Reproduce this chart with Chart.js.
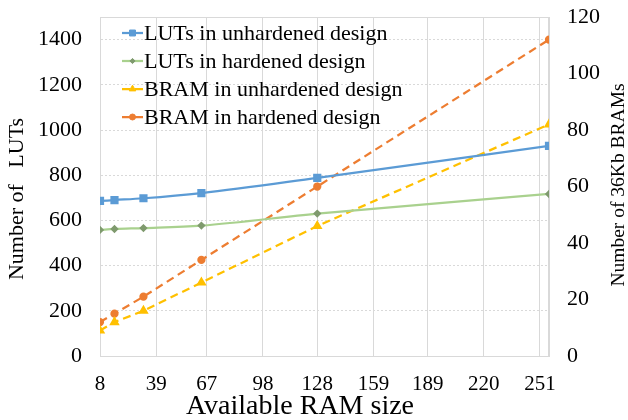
<!DOCTYPE html>
<html>
<head>
<meta charset="utf-8">
<script src="https://cdn.jsdelivr.net/npm/chart.js@4/dist/chart.umd.min.js"></script>
<style>
  html, body { margin: 0; padding: 0; background: #fff; }
  #wrap { width: 628px; height: 420px; }
</style>
</head>
<body>
<div id="wrap"><canvas id="chart"></canvas></div>
<script>
const ramSizes = [8, 16, 32, 64, 128, 256];
const lutsUnhardened = [686, 690, 698, 721, 788, 930];
const lutsHardened = [558, 562, 566, 577, 630, 717];
const bramUnhardened = [9, 12, 16, 26, 46, 82];
const bramHardened = [12, 15, 21, 34, 60, 112];
const xTickLabels = [8, 39, 67, 98, 128, 159, 189, 220, 251];

const serif = "'Liberation Serif', 'Times New Roman', serif";

function pairs(values) {
  return ramSizes.map((x, i) => ({ x: x, y: values[i] }));
}

function marker(ctx, ds, x, y) {
  ctx.fillStyle = ds.pointBackgroundColor;
  ctx.strokeStyle = ds.pointBorderColor;
  ctx.lineWidth = 1;
  Chart.helpers.drawPoint(ctx, {
    pointStyle: ds.pointStyle,
    radius: ds.pointRadius,
    borderWidth: 1,
    rotation: 0
  }, x, y);
}

// frame, legend inside the plot and the axis titles
const extras = {
  id: "extras",
  beforeDatasetsDraw(chart) {
    const a = chart.chartArea;
    const ctx = chart.ctx;
    ctx.save();
    ctx.strokeStyle = "#d9d9d9";
    ctx.lineWidth = 1;
    ctx.strokeRect(a.left + 0.5, a.top + 0.5, a.right - a.left - 1, a.bottom - a.top);
    ctx.restore();
  },
  afterDraw(chart) {
    const ctx = chart.ctx;
    ctx.save();
    ctx.font = "22px " + serif;
    ctx.textBaseline = "middle";
    chart.data.datasets.forEach((ds, i) => {
      const y = 33 + i * 28;
      ctx.strokeStyle = ds.borderColor;
      ctx.lineWidth = 2.25;
      ctx.setLineDash(ds.borderDash || []);
      ctx.beginPath();
      ctx.moveTo(122, y);
      ctx.lineTo(143, y);
      ctx.stroke();
      ctx.setLineDash([]);
      marker(ctx, ds, 132.5, y);
      ctx.fillStyle = "#000";
      ctx.fillText(ds.label, 144, y + 1);
    });

    ctx.fillStyle = "#000";
    ctx.textAlign = "center";
    ctx.textBaseline = "middle";

    ctx.font = "28px " + serif;
    ctx.fillText("Available RAM size", 300, 407);

    ctx.save();
    ctx.translate(17, 199);
    ctx.rotate(-Math.PI / 2);
    ctx.font = "22px " + serif;
    ctx.fillText("Number of   LUTs", 0, 0);
    ctx.restore();

    ctx.save();
    ctx.translate(619, 185);
    ctx.rotate(-Math.PI / 2);
    ctx.font = "19.5px " + serif;
    ctx.fillText("Number of 36Kb BRAMs", 0, 0);
    ctx.restore();

    ctx.restore();
  }
};

function fixWidth(w) {
  return scale => {
    scale.width = w;
    scale.paddingTop = 0;
    scale.paddingBottom = 0;
  };
}

new Chart(document.getElementById("chart"), {
  type: "line",
  data: {
    datasets: [
      {
        label: "LUTs in unhardened design",
        data: pairs(lutsUnhardened),
        yAxisID: "y",
        borderColor: "#5b9bd5",
        pointBackgroundColor: "#5b9bd5",
        pointBorderColor: "#5b9bd5",
        pointStyle: "rect",
        pointRadius: 4.2,
        borderWidth: 2.25,
        cubicInterpolationMode: "monotone"
      },
      {
        label: "LUTs in hardened design",
        data: pairs(lutsHardened),
        yAxisID: "y",
        borderColor: "#a9d18e",
        pointBackgroundColor: "#7f9a6e",
        pointBorderColor: "#7f9a6e",
        pointStyle: "rectRot",
        pointRadius: 2.6,
        borderWidth: 2.25,
        cubicInterpolationMode: "monotone"
      },
      {
        label: "BRAM in unhardened design",
        data: pairs(bramUnhardened),
        yAxisID: "y1",
        borderColor: "#ffc000",
        pointBackgroundColor: "#ffc000",
        pointBorderColor: "#ffc000",
        pointStyle: "triangle",
        pointRadius: 3.8,
        borderWidth: 2.25,
        borderDash: [8, 5]
      },
      {
        label: "BRAM in hardened design",
        data: pairs(bramHardened),
        yAxisID: "y1",
        borderColor: "#ed7d31",
        pointBackgroundColor: "#ed7d31",
        pointBorderColor: "#ed7d31",
        pointStyle: "circle",
        pointRadius: 3,
        borderWidth: 2.25,
        borderDash: [8, 5]
      }
    ]
  },
  options: {
    responsive: true,
    maintainAspectRatio: false,
    animation: false,
    layout: { padding: { top: 17, left: 0, right: 0, bottom: 0 } },
    plugins: {
      legend: { display: false },
      tooltip: { enabled: false }
    },
    scales: {
      x: {
        type: "linear",
        min: 8,
        max: 256,
        afterBuildTicks(scale) {
          scale.ticks = xTickLabels.map(v => ({ value: v }));
        },
        afterFit(scale) {
          scale.height = 64;
          scale.paddingLeft = 0;
          scale.paddingRight = 0;
        },
        grid: { color: "#d9d9d9", lineWidth: 1, drawTicks: false },
        border: { color: "#d9d9d9", width: 1 },
        ticks: {
          color: "#000",
          font: { family: serif, size: 21 },
          padding: 16,
          maxRotation: 0,
          autoSkip: false,
          callback: v => String(v)
        }
      },
      y: {
        position: "left",
        min: 0,
        max: 1500,
        afterFit: fixWidth(100),
        grid: { color: "#d9d9d9", lineWidth: 1, drawTicks: false },
        border: { color: "#d9d9d9", width: 1, dash: [2, 2] },
        ticks: {
          stepSize: 200,
          includeBounds: false,
          color: "#000",
          font: { family: serif, size: 22 },
          padding: 18,
          callback: v => String(v)
        }
      },
      y1: {
        position: "right",
        min: 0,
        max: 120,
        afterFit: fixWidth(79),
        grid: { display: false, drawTicks: false },
        border: { color: "#d9d9d9", width: 1 },
        ticks: {
          stepSize: 20,
          color: "#000",
          font: { family: serif, size: 22 },
          padding: 18,
          callback: v => String(v)
        }
      }
    }
  },
  plugins: [extras]
});
</script>
</body>
</html>
